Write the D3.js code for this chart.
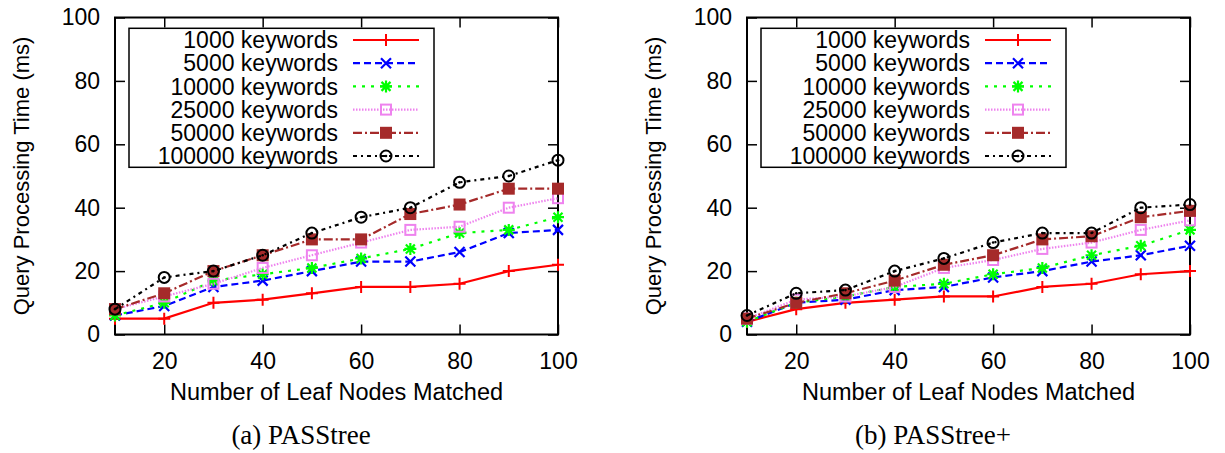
<!DOCTYPE html>
<html>
<head>
<meta charset="utf-8">
<script src="https://cdn.jsdelivr.net/npm/d3@7"></script>
<style>
  body { margin: 0; background: #fff; }
  svg text { font-family: "Liberation Sans", Arial, Helvetica, sans-serif; fill: #000; }
</style>
</head>
<body>
<div id="wrapper"></div>
<script>
// x values (number of leaf nodes matched)
var leafNodes = [10, 20, 30, 40, 50, 60, 70, 80, 90, 100];
var seriesNames = ["1000 keywords", "5000 keywords", "10000 keywords", "25000 keywords", "50000 keywords", "100000 keywords"];
var xTicks = [20, 40, 60, 80, 100];
var yTicks = [0, 20, 40, 60, 80, 100];

// (a) PASStree
var passtree1000 = [5, 5, 10, 11, 13, 15, 15, 16, 20, 22];
var passtree5000 = [6, 9, 15, 17, 20, 23, 23, 26, 32, 33];
var passtree10000 = [6, 10, 17, 19, 21, 24, 27, 32, 33, 37];
var passtree25000 = [8, 12, 16, 21, 25, 29, 33, 34, 40, 43];
var passtree50000 = [8, 13, 20, 25, 30, 30, 38, 41, 46, 46];
var passtree100000 = [8, 18, 20, 25, 32, 37, 40, 48, 50, 55];

// (b) PASStree+
var plus1000 = [4, 8, 10, 11, 12, 12, 15, 16, 19, 20];
var plus5000 = [4, 10, 11, 14, 15, 18, 20, 23, 25, 28];
var plus10000 = [4, 10, 12, 15, 16, 19, 21, 25, 28, 33];
var plus25000 = [5, 11, 12, 15, 21, 23.5, 27, 29, 33, 36];
var plus50000 = [5, 10, 13, 17, 22, 25, 30, 31, 37, 39];
var plus100000 = [6, 13, 14, 20, 24, 29, 32, 32, 40, 41];

var styles = [
  {color: "#ff0000", dash: null, marker: "plus"},
  {color: "#0000ff", dash: "7,4", marker: "cross"},
  {color: "#00ff00", dash: "3,6", marker: "star"},
  {color: "#ee82ee", dash: "1.5,1.5", marker: "square"},
  {color: "#a52a2a", dash: "9,3,2,3", marker: "fsquare"},
  {color: "#000000", dash: "4,4,2,4", marker: "circle"}
];

var svg = d3.select("#wrapper").append("svg")
    .attr("width", 1225)
    .attr("height", 453);

function drawMarker(g, type, color, cx, cy) {
  var m = g.append("g").attr("transform", "translate(" + cx + "," + cy + ")");
  if (type == "plus") {
    m.append("path").attr("d", "M-6,0H6M0,-6V6").attr("stroke", color).attr("stroke-width", 2).attr("fill", "none");
  } else if (type == "cross") {
    m.append("path").attr("d", "M-5,-5L5,5M-5,5L5,-5").attr("stroke", color).attr("stroke-width", 2.2).attr("fill", "none");
  } else if (type == "star") {
    m.append("path").attr("d", "M-6,0H6M0,-6V6M-4.5,-4.5L4.5,4.5M-4.5,4.5L4.5,-4.5").attr("stroke", color).attr("stroke-width", 2.2).attr("fill", "none");
  } else if (type == "square") {
    m.append("rect").attr("x", -5).attr("y", -5).attr("width", 10).attr("height", 10)
      .attr("stroke", color).attr("stroke-width", 2).attr("fill", "none");
  } else if (type == "fsquare") {
    m.append("rect").attr("x", -6).attr("y", -6).attr("width", 12).attr("height", 12).attr("fill", color);
  } else if (type == "circle") {
    m.append("circle").attr("r", 5.5).attr("stroke", color).attr("stroke-width", 2).attr("fill", "none");
    m.append("circle").attr("r", 1.3).attr("fill", color);
  }
}

function drawChart(left, seriesData, caption) {
  var width = 443, top = 17.5, bottom = 334.5;

  var x = d3.scaleLinear().domain([10, 100]).range([left, left + width]);
  var y = d3.scaleLinear().domain([0, 100]).range([bottom, top]);

  var g = svg.append("g");

  // axes with inward ticks
  var ax = g.append("g").attr("transform", "translate(0," + bottom + ")")
      .call(d3.axisBottom(x).tickValues(xTicks).tickSize(-10).tickPadding(18));
  ax.select(".domain").remove();
  ax.selectAll("text").style("font-size", "23px");

  var ay = g.append("g").attr("transform", "translate(" + left + ",0)")
      .call(d3.axisLeft(y).tickValues(yTicks).tickSize(-10).tickPadding(15));
  ay.select(".domain").remove();
  ay.selectAll("text").style("font-size", "23px");

  // mirror ticks
  g.append("g").attr("transform", "translate(0," + top + ")")
      .call(d3.axisTop(x).tickValues(xTicks).tickSize(-10).tickFormat(""))
      .select(".domain").remove();
  g.append("g").attr("transform", "translate(" + (left + width) + ",0)")
      .call(d3.axisRight(y).tickValues(yTicks).tickSize(-10).tickFormat(""))
      .select(".domain").remove();

  g.selectAll(".tick line").attr("stroke", "#000").attr("stroke-width", 1.5);

  // frame
  g.append("rect")
    .attr("x", left).attr("y", top)
    .attr("width", width).attr("height", bottom - top)
    .attr("fill", "none").attr("stroke", "#000").attr("stroke-width", 2);

  // legend box
  var lx = left + 14, ly = 28.3;
  g.append("rect")
    .attr("x", lx).attr("y", ly).attr("width", 305).attr("height", 139)
    .attr("fill", "#fff").attr("stroke", "#000").attr("stroke-width", 1.5);

  var line = d3.line()
      .x(function(d, i) { return x(leafNodes[i]); })
      .y(function(d) { return y(d); });

  seriesData.forEach(function(vals, s) {
    var st = styles[s];
    g.append("path")
      .datum(vals)
      .attr("fill", "none")
      .attr("stroke", st.color)
      .attr("stroke-width", 2.2)
      .attr("stroke-dasharray", st.dash)
      .attr("d", line);
    vals.forEach(function(v, i) {
      drawMarker(g, st.marker, st.color, x(leafNodes[i]), y(v));
    });

    // legend entry
    var ry = 40 + s * 23.2;
    g.append("text")
      .attr("x", lx + 209).attr("y", ry)
      .attr("dy", "0.36em")
      .attr("text-anchor", "end")
      .style("font-size", "23px")
      .text(seriesNames[s]);
    g.append("line")
      .attr("x1", lx + 224).attr("x2", lx + 290)
      .attr("y1", ry).attr("y2", ry)
      .attr("stroke", st.color).attr("stroke-width", 2.2)
      .attr("stroke-dasharray", st.dash);
    drawMarker(g, st.marker, st.color, lx + 257, ry);
  });

  // axis titles
  g.append("text")
    .attr("transform", "translate(" + (left - 94) + "," + ((top + bottom) / 2) + ") rotate(-90)")
    .attr("text-anchor", "middle")
    .attr("dy", "0.36em")
    .style("font-size", "22px")
    .text("Query Processing Time (ms)");

  g.append("text")
    .attr("x", left + width / 2).attr("y", 400)
    .attr("text-anchor", "middle")
    .style("font-size", "23.5px")
    .text("Number of Leaf Nodes Matched");

  g.append("text")
    .attr("x", left + width / 2 - 35.5).attr("y", 444)
    .attr("text-anchor", "middle")
    .style("font-family", "'Liberation Serif', 'Times New Roman', serif")
    .style("font-size", "27px")
    .text(caption);
}

drawChart(115, [passtree1000, passtree5000, passtree10000, passtree25000, passtree50000, passtree100000], "(a) PASStree");
drawChart(747, [plus1000, plus5000, plus10000, plus25000, plus50000, plus100000], "(b) PASStree+");
</script>
</body>
</html>
